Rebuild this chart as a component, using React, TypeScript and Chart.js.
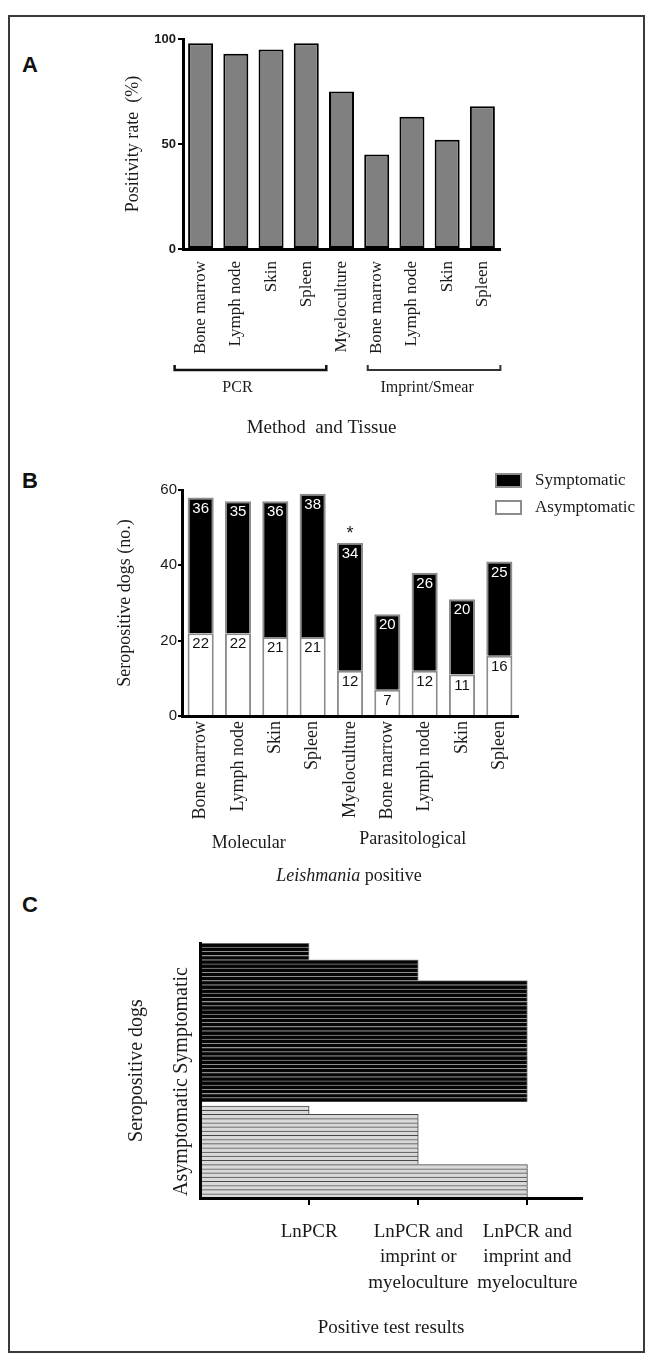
import React, { useEffect, useRef } from "react";
import { Chart, registerables } from "chart.js";

Chart.register(...registerables);

const SERIF = '"Liberation Serif", "Times New Roman", serif';
const SANS = '"Liberation Sans", Arial, sans-serif';
const INK = "#1a1a1a";

// ---------- Panel A data ----------
const tissueLabels = ["Bone marrow", "Lymph node", "Skin", "Spleen", "Myeloculture", "Bone marrow", "Lymph node", "Skin", "Spleen"];
const positivityRate = [98, 93, 95, 98, 75, 45, 63, 52, 68];
const positivityTicks = [0, 50, 100];
const methodGroups = [
  { label: "PCR", from: 0, to: 3 },
  { label: "Imprint/Smear", from: 5, to: 8 },
];

// ---------- Panel B data ----------
const symptomaticDogs = [36, 35, 36, 38, 34, 20, 26, 20, 25];
const asymptomaticDogs = [22, 22, 21, 21, 12, 7, 12, 11, 16];
const significanceMarks = ["", "", "", "", "*", "", "", "", ""];
const seropositiveTicks = [0, 20, 40, 60];
const approachGroups = [
  { label: "Molecular", from: 0, to: 3 },
  { label: "Parasitological", from: 4, to: 8 },
];

// ---------- Panel C data ----------
const testResultLevels = [1, 2, 3];
const testResultLabels = [
  ["LnPCR"],
  ["LnPCR and", "imprint or", "myeloculture"],
  ["LnPCR and", "imprint and", "myeloculture"],
];
const symptomaticByResult = [4, 5, 29];
const asymptomaticByResult = [2, 12, 8];

// ---------- styles (pixel offsets, not data) ----------
const A_GROUP_STYLE = [
  { extL: 26, extR: 20, labelDx: -13, color: "#111", width: 2.5 },
  { extL: 9, extR: 18, labelDx: -7, color: "#333", width: 2 },
];
const B_GROUP_STYLE = [
  { dx: -8, dy: 127 },
  { dx: -12, dy: 123 },
];
const B_VALUE_COLORS = ["#111", "#fff"];
const AXIS_BORDER = { display: true, color: "#000", width: 3, z: 1 };

// ---------- Panel A ----------
const aAnnotPlugin = {
  id: "aAnnot",
  afterDraw(chart: any) {
    const { ctx, chartArea } = chart;
    const x = chart.scales.x;
    ctx.save();
    methodGroups.forEach((g, i) => {
      const st = A_GROUP_STYLE[i];
      const x0 = x.getPixelForValue(g.from) - st.extL;
      const x1 = x.getPixelForValue(g.to) + st.extR;
      const y = chartArea.bottom + 121;
      ctx.strokeStyle = st.color;
      ctx.lineWidth = st.width;
      ctx.beginPath();
      ctx.moveTo(x0, y - 5);
      ctx.lineTo(x0, y);
      ctx.lineTo(x1, y);
      ctx.lineTo(x1, y - 5);
      ctx.stroke();
      ctx.fillStyle = INK;
      ctx.font = `16px ${SERIF}`;
      ctx.textAlign = "center";
      ctx.textBaseline = "middle";
      ctx.fillText(g.label, (x0 + x1) / 2 + st.labelDx, chartArea.bottom + 139);
    });
    ctx.font = `19px ${SERIF}`;
    ctx.fillText("Method  and Tissue", (chartArea.left + chartArea.right) / 2 - 20, chartArea.bottom + 179);
    ctx.restore();
  },
};

function buildA(): any {
  return {
    type: "bar",
    data: {
      labels: tissueLabels,
      datasets: [
        {
          label: "Positivity rate (%)",
          data: positivityRate,
          backgroundColor: "#808080",
          borderColor: "#000",
          borderWidth: 2,
          borderSkipped: false,
          barPercentage: 0.71,
          categoryPercentage: 1,
        },
      ],
    },
    options: {
      responsive: false,
      animation: false,
      devicePixelRatio: 1,
      layout: { padding: { left: 0, top: 19, right: 148, bottom: 0 } },
      plugins: { legend: { display: false }, tooltip: { enabled: false } },
      scales: {
        x: {
          grid: { display: false, drawTicks: false },
          border: AXIS_BORDER,
          ticks: { autoSkip: false, minRotation: 90, maxRotation: 90, padding: 12, color: INK, font: { family: SERIF, size: 17 } },
          afterFit: (s: any) => { s.height = 201; },
        },
        y: {
          min: 0,
          max: 100,
          afterBuildTicks: (s: any) => { s.ticks = positivityTicks.map((v) => ({ value: v })); },
          grid: { display: true, drawOnChartArea: false, drawTicks: true, tickLength: 5, color: "#000", lineWidth: 2, z: 1 },
          border: AXIS_BORDER,
          ticks: { padding: 2, color: INK, font: { family: SANS, size: 13, weight: "bold" } },
          title: { display: true, text: "Positivity rate  (%)", color: INK, font: { family: SERIF, size: 18 }, padding: { top: 122, bottom: 0 } },
          afterFit: (s: any) => { s.width = 183; },
        },
      },
    },
    plugins: [aAnnotPlugin],
  };
}

// ---------- Panel B ----------
const bAnnotPlugin = {
  id: "bAnnot",
  afterDraw(chart: any) {
    const { ctx, chartArea } = chart;
    const x = chart.scales.x;
    ctx.save();
    ctx.textAlign = "center";
    ctx.textBaseline = "middle";
    ctx.font = `15px ${SANS}`;
    chart.data.datasets.forEach((ds: any, di: number) => {
      const meta = chart.getDatasetMeta(di);
      meta.data.forEach((el: any, i: number) => {
        ctx.fillStyle = B_VALUE_COLORS[di];
        ctx.fillText(String(ds.data[i]), el.x, el.y + 11);
      });
    });
    const topMeta = chart.getDatasetMeta(1);
    ctx.font = `18px ${SANS}`;
    ctx.textBaseline = "alphabetic";
    ctx.fillStyle = INK;
    significanceMarks.forEach((m, i) => {
      if (!m) return;
      const el = topMeta.data[i];
      ctx.fillText(m, el.x, el.y - 4);
    });
    // legend (symptomatic first)
    const order = [1, 0];
    order.forEach((di, k) => {
      const ds = chart.data.datasets[di];
      const bx = chartArea.right - 23;
      const by = chartArea.top - 17 + k * 27;
      ctx.fillStyle = ds.backgroundColor;
      ctx.fillRect(bx, by, 27, 15);
      ctx.strokeStyle = "#8c8c8c";
      ctx.lineWidth = 2;
      ctx.strokeRect(bx + 1, by + 1, 25, 13);
      ctx.fillStyle = INK;
      ctx.font = `17px ${SERIF}`;
      ctx.textAlign = "left";
      ctx.textBaseline = "middle";
      ctx.fillText(ds.label, bx + 40, by + 8);
    });
    // group labels
    ctx.textAlign = "center";
    ctx.textBaseline = "middle";
    ctx.font = `18px ${SERIF}`;
    approachGroups.forEach((g, i) => {
      const st = B_GROUP_STYLE[i];
      const cx = (x.getPixelForValue(g.from) + x.getPixelForValue(g.to)) / 2 + st.dx;
      ctx.fillText(g.label, cx, chartArea.bottom + st.dy);
    });
    // "Leishmania positive" with italic genus
    const italic = "Leishmania";
    const rest = " positive";
    ctx.font = `italic 18px ${SERIF}`;
    const w1 = ctx.measureText(italic).width;
    ctx.font = `18px ${SERIF}`;
    const w2 = ctx.measureText(rest).width;
    const cx = (chartArea.left + chartArea.right) / 2 - 1;
    const sx = cx - (w1 + w2) / 2;
    ctx.textAlign = "left";
    ctx.font = `italic 18px ${SERIF}`;
    ctx.fillText(italic, sx, chartArea.bottom + 160);
    ctx.font = `18px ${SERIF}`;
    ctx.fillText(rest, sx + w1, chartArea.bottom + 160);
    ctx.restore();
  },
};

function buildB(): any {
  return {
    type: "bar",
    data: {
      labels: tissueLabels,
      datasets: [
        {
          label: "Asymptomatic",
          data: asymptomaticDogs,
          backgroundColor: "#ffffff",
          borderColor: "#8c8c8c",
          borderWidth: 2,
          barPercentage: 0.7,
          categoryPercentage: 1,
        },
        {
          label: "Symptomatic",
          data: symptomaticDogs,
          backgroundColor: "#000000",
          borderColor: "#8c8c8c",
          borderWidth: 2,
          barPercentage: 0.7,
          categoryPercentage: 1,
        },
      ],
    },
    options: {
      responsive: false,
      animation: false,
      devicePixelRatio: 1,
      layout: { padding: { left: 0, top: 35, right: 130, bottom: 0 } },
      plugins: { legend: { display: false }, tooltip: { enabled: false } },
      scales: {
        x: {
          stacked: true,
          grid: { display: false, drawTicks: false },
          border: AXIS_BORDER,
          ticks: { autoSkip: false, minRotation: 90, maxRotation: 90, padding: 5, color: INK, font: { family: SERIF, size: 18 } },
          afterFit: (s: any) => { s.height = 174; },
        },
        y: {
          stacked: true,
          min: 0,
          max: 60,
          afterBuildTicks: (s: any) => { s.ticks = seropositiveTicks.map((v) => ({ value: v })); },
          grid: { display: true, drawOnChartArea: false, drawTicks: true, tickLength: 4, color: "#000", lineWidth: 2, z: 1 },
          border: AXIS_BORDER,
          ticks: { padding: 1, color: INK, font: { family: SANS, size: 15 } },
          title: { display: true, text: "Seropositive dogs (no.)", color: INK, font: { family: SERIF, size: 18 }, padding: { top: 114, bottom: 0 } },
          afterFit: (s: any) => { s.width = 182; },
        },
      },
    },
    plugins: [bAnnotPlugin],
  };
}

// ---------- Panel C ----------
type Row = { group: string; level: number | null };
const dogRows: Row[] = [];
symptomaticByResult.forEach((n, i) => { for (let k = 0; k < n; k++) dogRows.push({ group: "Symptomatic", level: testResultLevels[i] }); });
dogRows.push({ group: "", level: null });
asymptomaticByResult.forEach((n, i) => { for (let k = 0; k < n; k++) dogRows.push({ group: "Asymptomatic", level: testResultLevels[i] }); });

const C_GROUP_DY: Record<string, number> = { Symptomatic: -2, Asymptomatic: -15 };

const cAnnotPlugin = {
  id: "cAnnot",
  afterDraw(chart: any) {
    const { ctx, chartArea } = chart;
    const y = chart.scales.y;
    const rowH = y.getPixelForValue(1) - y.getPixelForValue(0);
    ctx.save();
    ctx.fillStyle = INK;
    ctx.font = `20px ${SERIF}`;
    ctx.textAlign = "center";
    ctx.textBaseline = "middle";
    ["Symptomatic", "Asymptomatic"].forEach((g) => {
      const idx = dogRows.map((r, i) => (r.group === g ? i : -1)).filter((i) => i >= 0);
      const top = y.getPixelForValue(idx[0]) - rowH / 2;
      const bot = y.getPixelForValue(idx[idx.length - 1]) + rowH / 2;
      ctx.save();
      ctx.translate(chartArea.left - 18, (top + bot) / 2 + C_GROUP_DY[g]);
      ctx.rotate(-Math.PI / 2);
      ctx.fillText(g, 0, 0);
      ctx.restore();
    });
    ctx.restore();
  },
};

function buildC(): any {
  const rowBorder = { top: 1, right: 1, bottom: 0, left: 0 };
  return {
    type: "bar",
    data: {
      labels: dogRows.map((r, i) => `${r.group} ${i}`),
      datasets: [
        {
          label: "Symptomatic",
          data: dogRows.map((r) => (r.group === "Symptomatic" ? r.level : null)),
          backgroundColor: "#050505",
          borderColor: "#8e8e8e",
          borderWidth: rowBorder,
          barPercentage: 1,
          categoryPercentage: 1,
          grouped: false,
        },
        {
          label: "Asymptomatic",
          data: dogRows.map((r) => (r.group === "Asymptomatic" ? r.level : null)),
          backgroundColor: "#d9d9d9",
          borderColor: "#474747",
          borderWidth: rowBorder,
          barPercentage: 1,
          categoryPercentage: 1,
          grouped: false,
        },
      ],
    },
    options: {
      indexAxis: "y",
      responsive: false,
      animation: false,
      devicePixelRatio: 1,
      layout: { padding: { left: 0, top: 58, right: 66, bottom: 0 } },
      plugins: { legend: { display: false }, tooltip: { enabled: false } },
      scales: {
        y: {
          grid: { display: false, drawTicks: false },
          border: AXIS_BORDER,
          ticks: { display: false },
          title: { display: true, text: "Seropositive dogs", color: INK, font: { family: SERIF, size: 20 }, padding: { top: 125, bottom: 0 } },
          afterFit: (s: any) => { s.width = 200; },
        },
        x: {
          type: "linear",
          min: 0,
          max: 3.5,
          afterBuildTicks: (s: any) => { s.ticks = testResultLevels.map((v) => ({ value: v })); },
          grid: { display: true, drawOnChartArea: false, drawTicks: true, tickLength: 7, color: "#000", lineWidth: 2, z: 1 },
          border: AXIS_BORDER,
          ticks: {
            autoSkip: false,
            minRotation: 0,
            maxRotation: 0,
            padding: 14,
            color: INK,
            font: { family: SERIF, size: 19, lineHeight: 1.34 },
            callback: (v: any) => testResultLabels[testResultLevels.indexOf(Number(v))] ?? "",
          },
          title: { display: true, text: "Positive test results", color: INK, font: { family: SERIF, size: 19 }, padding: { top: 0, bottom: 15.6 } },
          afterFit: (s: any) => { s.height = 157; },
        },
      },
    },
    plugins: [cAnnotPlugin],
  };
}

const letterStyle = (top: number): React.CSSProperties => ({
  position: "absolute",
  left: 22,
  top,
  font: `bold 22px ${SANS}`,
  lineHeight: "22px",
  color: "#111",
});

export default function App() {
  const refA = useRef<HTMLCanvasElement>(null);
  const refB = useRef<HTMLCanvasElement>(null);
  const refC = useRef<HTMLCanvasElement>(null);
  useEffect(() => {
    const charts = [
      new Chart(refA.current as HTMLCanvasElement, buildA()),
      new Chart(refB.current as HTMLCanvasElement, buildB()),
      new Chart(refC.current as HTMLCanvasElement, buildC()),
    ];
    return () => charts.forEach((c) => c.destroy());
  }, []);
  return (
    <div style={{ position: "absolute", left: 0, top: 0, width: 648, height: 1355, background: "#fff" }}>
      <div style={{ position: "absolute", left: 8, top: 15, width: 637, height: 1338, border: "2px solid #3a3a3a", boxSizing: "border-box" }} />
      <div style={letterStyle(54)}>A</div>
      <div style={letterStyle(470)}>B</div>
      <div style={letterStyle(894)}>C</div>
      <canvas ref={refA} width={648} height={430} style={{ position: "absolute", left: 0, top: 20 }} />
      <canvas ref={refB} width={648} height={435} style={{ position: "absolute", left: 0, top: 455 }} />
      <canvas ref={refC} width={648} height={470} style={{ position: "absolute", left: 0, top: 885 }} />
    </div>
  );
}
